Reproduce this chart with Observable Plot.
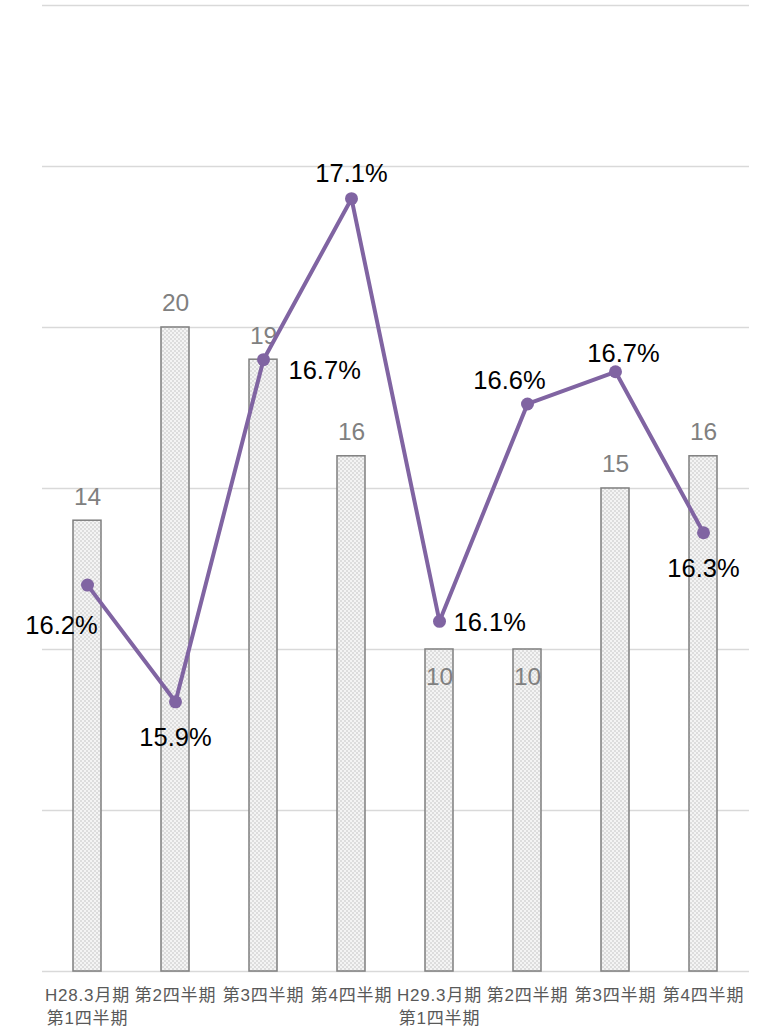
<!DOCTYPE html>
<html>
<head>
<meta charset="utf-8">
<script src="https://cdn.jsdelivr.net/npm/d3@7"></script>
<script src="https://cdn.jsdelivr.net/npm/@observablehq/plot@0.6"></script>
<style>
  html, body { margin: 0; padding: 0; background: #fff; }
  #chart svg { display: block; }
</style>
</head>
<body>
<div id="chart"></div>
<script>
// ---- data ----
const categories = ["H28.3月期\n第1四半期", "第2四半期", "第3四半期", "第4四半期", "H29.3月期\n第1四半期", "第2四半期", "第3四半期", "第4四半期"];
const counts = [14, 20, 19, 16, 10, 10, 15, 16];
const rates = [16.16, 15.87, 16.72, 17.12, 16.07, 16.61, 16.69, 16.29];
const gridTicks = [0, 5, 10, 15, 20, 25, 30];

// secondary axis (percent) mapped onto the primary scale: 15.2% .. 17.6% <-> 0 .. 30
const rateMin = 15.2, rateMax = 17.6, countMax = 30;
const toPrimary = p => (p - rateMin) / (rateMax - rateMin) * countMax;

const rows = categories.map((c, i) => ({ key: i, cat: c, count: counts[i], rate: rates[i], ry: toPrimary(rates[i]) }));

const font = '"Liberation Sans", Arial, "Noto Sans CJK JP", sans-serif';
const rateLabel = d => d.rate.toFixed(1) + "%";
const pick = idx => rows.filter(d => idx.includes(d.key));
const RF = 25.5; // rate label font size
const BF = 24.5; // bar label font size

const chart = Plot.plot({
  width: 758,
  height: 1029,
  marginLeft: 42,
  marginRight: 9,
  marginTop: 5,
  marginBottom: 58,
  style: { fontFamily: font, background: "#fff" },
  x: { domain: d3.range(categories.length), paddingInner: 0.68, paddingOuter: 0.34, axis: null, label: null },
  y: { domain: [0, countMax], axis: null },
  marks: [
    Plot.gridY(gridTicks, { stroke: "#d9d9d9", strokeOpacity: 1, strokeWidth: 1.5 }),
    Plot.barY(rows, { x: "key", y: "count", fill: "url(#dots)", stroke: "#7f7f7f", strokeWidth: 1.5 }),
    Plot.axisX({ tickSize: 0, tickPadding: 13, fontSize: 17, lineHeight: 1.36, fill: "#595959", label: null, tickFormat: i => categories[i], textStroke: "none" }),
    // bar value labels
    Plot.text(rows.filter(d => d.count !== 10), { x: "key", y: "count", text: "count", dy: -24, fontSize: BF, fill: "#808080" }),
    Plot.text(rows.filter(d => d.count === 10), { x: "key", y: "count", text: "count", dy: 28, fontSize: BF, fill: "#808080" }),
    // rate line
    Plot.line(rows, { x: "key", y: "ry", stroke: "#8064a2", strokeWidth: 4 }),
    Plot.dot(rows, { x: "key", y: "ry", r: 6.5, fill: "#8064a2" }),
    // rate labels
    Plot.text(pick([0]), { x: "key", y: "ry", text: rateLabel, dx: -26, dy: 41, fontSize: RF, fill: "#000" }),
    Plot.text(pick([1, 7]), { x: "key", y: "ry", text: rateLabel, dy: 36, fontSize: RF, fill: "#000" }),
    Plot.text(pick([2]), { x: "key", y: "ry", text: rateLabel, dx: 25, dy: 11, textAnchor: "start", fontSize: RF, fill: "#000" }),
    Plot.text(pick([4]), { x: "key", y: "ry", text: rateLabel, dx: 14, dy: 2, textAnchor: "start", fontSize: RF, fill: "#000" }),
    Plot.text(pick([3]), { x: "key", y: "ry", text: rateLabel, dy: -25, fontSize: RF, fill: "#000" }),
    Plot.text(pick([5]), { x: "key", y: "ry", text: rateLabel, dx: -18, dy: -23, fontSize: RF, fill: "#000" }),
    Plot.text(pick([6]), { x: "key", y: "ry", text: rateLabel, dx: 8, dy: -18, fontSize: RF, fill: "#000" })
  ]
});

// slight letter spacing on the category labels, as in the original
d3.select(chart).selectAll('g[aria-label="x-axis tick label"] text').attr("letter-spacing", "0.8px");

// dotted pattern for the bars
const ns = "http://www.w3.org/2000/svg";
const defs = document.createElementNS(ns, "defs");
const pat = document.createElementNS(ns, "pattern");
pat.setAttribute("id", "dots");
pat.setAttribute("width", "4");
pat.setAttribute("height", "4");
pat.setAttribute("patternUnits", "userSpaceOnUse");
const bg = document.createElementNS(ns, "rect");
bg.setAttribute("width", "4"); bg.setAttribute("height", "4"); bg.setAttribute("fill", "#f4f4f4");
pat.appendChild(bg);
[[1, 1], [3, 3]].forEach(([cx, cy]) => {
  const c = document.createElementNS(ns, "circle");
  c.setAttribute("cx", cx); c.setAttribute("cy", cy); c.setAttribute("r", "0.7"); c.setAttribute("fill", "#b5b5b5");
  pat.appendChild(c);
});
defs.appendChild(pat);
chart.insertBefore(defs, chart.firstChild);

document.getElementById("chart").appendChild(chart);
</script>
</body>
</html>
